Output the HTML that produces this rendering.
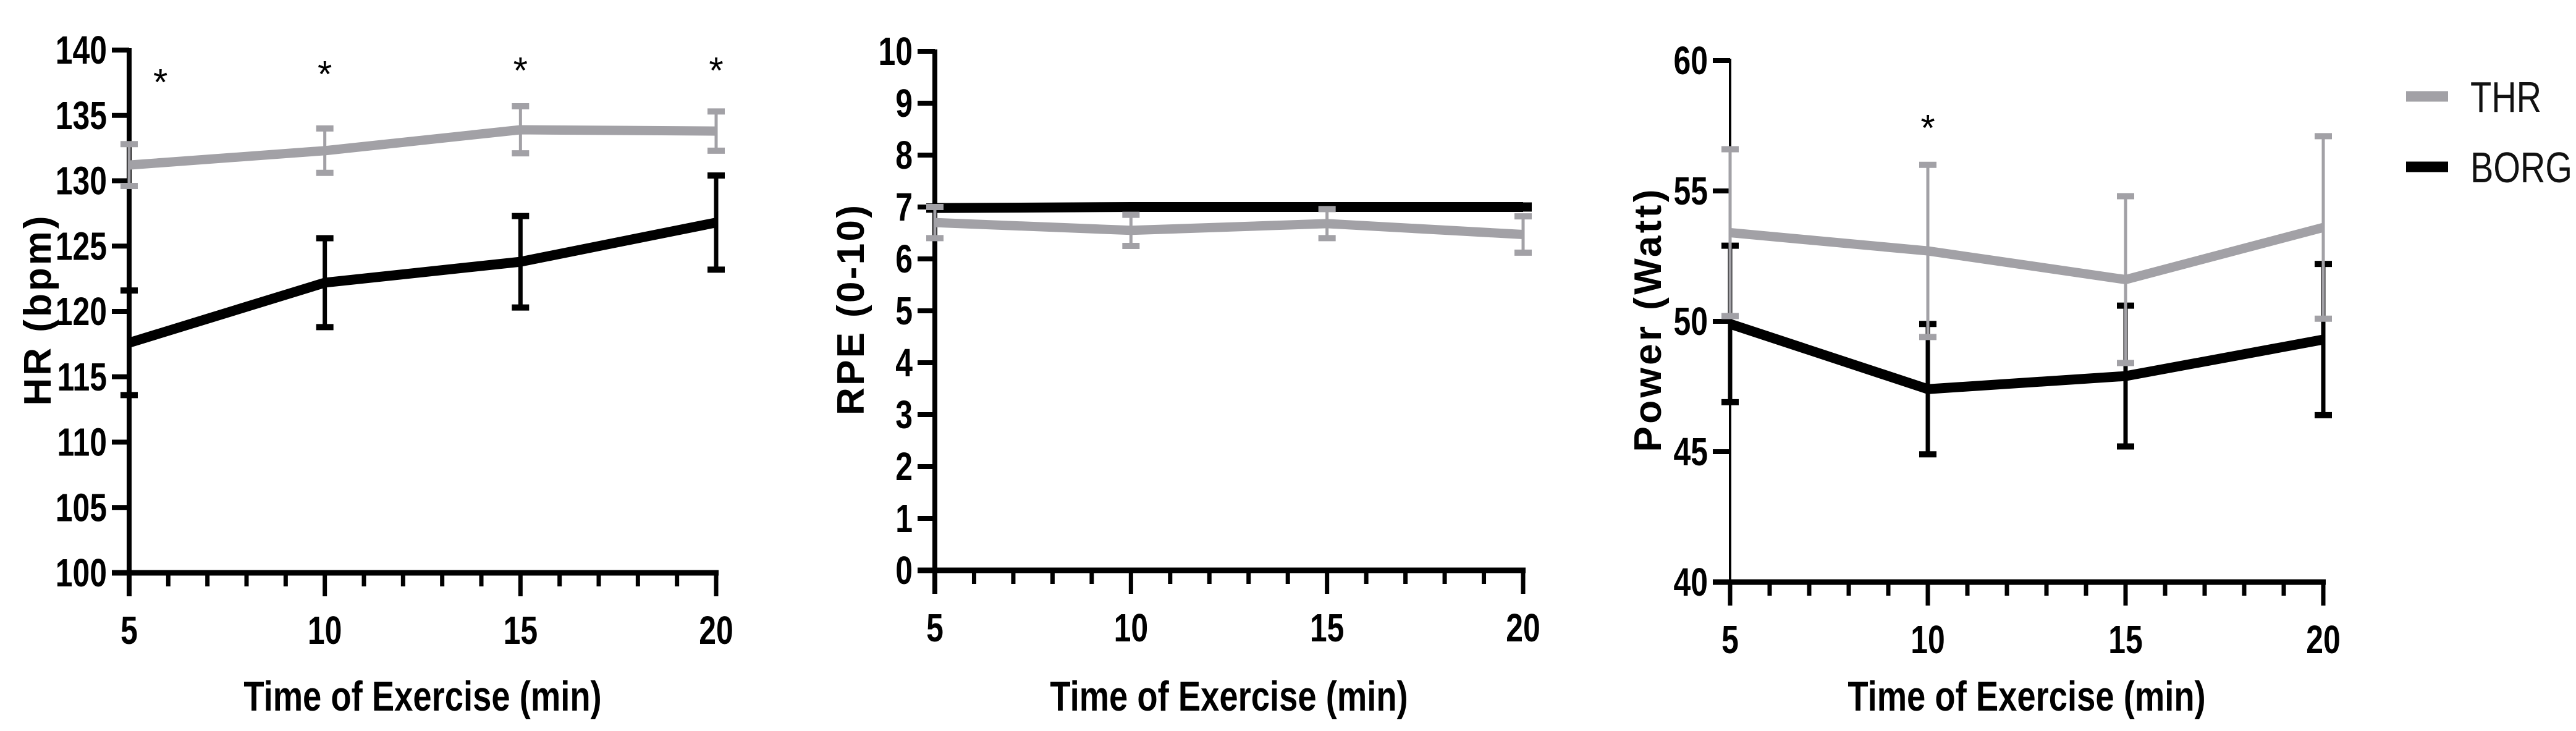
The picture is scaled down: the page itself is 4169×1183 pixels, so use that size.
<!DOCTYPE html>
<html><head><meta charset="utf-8"><style>
html,body{margin:0;padding:0;background:#fff;width:4169px;height:1183px;overflow:hidden}
svg{display:block}
text{font-family:"Liberation Sans",Arial,sans-serif}
</style></head><body>
<svg id="chart" width="4169" height="1183" viewBox="0 0 4169 1183" xmlns="http://www.w3.org/2000/svg"></svg>
<script>
// ---- data ----
const times = [5, 10, 15, 20];
const xTicks = [5, 10, 15, 20];
// Panel 1: HR
const hrThrMean = [131.2, 132.3, 133.9, 133.8];
const hrThrErr  = [1.6, 1.7, 1.8, 1.5];
const hrBorgMean = [117.6, 122.2, 123.8, 126.8];
const hrBorgErr  = [4.0, 3.4, 3.5, 3.6];
const hrTicks = [100, 105, 110, 115, 120, 125, 130, 135, 140];
const hrStarTimes = [5.8, 10, 15, 20];
const hrStarVals = [137.9, 138.5, 138.8, 138.8];
// Panel 2: RPE
const rpeThrMean = [6.7, 6.55, 6.68, 6.47];
const rpeThrErr  = [0.3, 0.3, 0.28, 0.35];
const rpeBorgMean = [6.98, 7.0, 7.0, 7.0];
const rpeBorgErr  = [0.03, 0.03, 0.03, 0.03];
const rpeTicks = [0, 1, 2, 3, 4, 5, 6, 7, 8, 9, 10];
// Panel 3: Power
const pwThrMean = [53.4, 52.7, 51.6, 53.6];
const pwThrErr  = [3.2, 3.3, 3.2, 3.5];
const pwBorgMean = [49.9, 47.4, 47.9, 49.3];
const pwBorgErr  = [3.0, 2.5, 2.7, 2.9];
const pwTicks = [40, 45, 50, 55, 60];
const pwStarTimes = [10];
const pwStarVals = [57.6];

const NS = "http://www.w3.org/2000/svg";
const svg = document.getElementById('chart');
const GREY = '#a2a1a6';
function mk(tag, attrs, parent) {
  const e = document.createElementNS(NS, tag);
  for (const k in attrs) e.setAttribute(k, attrs[k]);
  (parent || svg).appendChild(e);
  return e;
}

function panel(cfg) {
  const g = mk('g', {});
  
  
  const sx = v => cfg.x0 + (v - 5) / 15 * (cfg.x1 - cfg.x0);
  const sy = v => cfg.y0 + (v - cfg.ymin) / (cfg.ymax - cfg.ymin) * (cfg.y1 - cfg.y0);
  const ya = mk('line', {x1: cfg.x0, y1: sy(cfg.ymax) - 3, x2: cfg.x0, y2: cfg.y0 + 38, stroke: '#000', 'stroke-width': cfg.yw}, g);
  
  
  cfg.yticks.forEach(t => {
    const tk = mk('line', {x1: cfg.x0 - 28, y1: sy(t), x2: cfg.x0, y2: sy(t), stroke: '#000', 'stroke-width': 8}, g);
    
    
    const tx = mk('text', {transform: `translate(${cfg.x0 - 36},${sy(t) + 22}) scale(0.78,1)`, 'text-anchor': 'end', 'font-size': 64, 'font-weight': 'bold'}, g);
    tx.textContent = t;
    
    
  });
  const xa = mk('line', {x1: cfg.x0 - 28, y1: cfg.y0, x2: cfg.x1 + 4, y2: cfg.y0, stroke: '#000', 'stroke-width': 9}, g);
  
  
  for (let m = 5; m <= 20; m++) {
    const major = xTicks.includes(m);
    const tk = mk('line', {x1: sx(m), y1: cfg.y0, x2: sx(m), y2: cfg.y0 + (major ? 38 : 22), stroke: '#000', 'stroke-width': 7}, g);
    
    
  }
  xTicks.forEach(t => {
    const tx = mk('text', {transform: `translate(${sx(t)},${cfg.y0 + 115}) scale(0.78,1)`, 'text-anchor': 'middle', 'font-size': 64, 'font-weight': 'bold'}, g);
    tx.textContent = t;
    
    
  });
  const xt = mk('text', {transform: `translate(${(cfg.x0 + cfg.x1) / 2},1150) scale(0.8,1)`, 'text-anchor': 'middle', 'font-size': 68, 'font-weight': 'bold'}, g);
  xt.textContent = 'Time of Exercise (min)';
  
  
  const yt = mk('text', {transform: `translate(${cfg.ytx},${cfg.yty}) rotate(-90)`, 'text-anchor': 'middle', 'font-size': 62, 'font-weight': 'bold', textLength: cfg.ytl, lengthAdjust: 'spacing'}, g);
  yt.textContent = cfg.ytitle;
  
  

  function series(mean, err, color, name, lw, ew) {
    const sg = mk('g', {}, g);
    
    
    times.forEach((t, i) => {
      const x = sx(t), yt = sy(mean[i] + err[i]), yb = sy(mean[i] - err[i]);
      const eb = mk('line', {x1: x, y1: yt, x2: x, y2: yb, stroke: color, 'stroke-width': ew}, sg);
      
      
      [yt, yb].forEach(yy => {
        const c = mk('line', {x1: x - 14, y1: yy, x2: x + 14, y2: yy, stroke: color, 'stroke-width': 10}, sg);
        
        
      });
    });
    const pts = times.map((t, i) => sx(t) + ',' + sy(mean[i])).join(' ');
    const pl = mk('polyline', {points: pts, fill: 'none', stroke: color, 'stroke-width': lw, 'stroke-linejoin': 'round'}, sg);
    
    
  }
  series(cfg.borgMean, cfg.borgErr, '#000', 'borg-series', 16, 7);
  series(cfg.thrMean, cfg.thrErr, GREY, 'thr-series', 15, 5);
  (cfg.starT || []).forEach((t, i) => {
    const s = mk('text', {x: sx(t), y: sy(cfg.starV[i]) + 28, 'text-anchor': 'middle', 'font-size': 60}, g);
    s.textContent = '*';
    
    
  });
}

panel({name: 'hr-panel', x0: 209, x1: 1159, y0: 927, y1: 81, ymin: 100, ymax: 140, yw: 8,
  yticks: hrTicks, ytitle: 'HR (bpm)', ytx: 82, yty: 503, ytl: 307,
  thrMean: hrThrMean, thrErr: hrThrErr, borgMean: hrBorgMean, borgErr: hrBorgErr,
  starT: hrStarTimes, starV: hrStarVals});
panel({name: 'rpe-panel', x0: 1513, x1: 2465, y0: 923, y1: 83, ymin: 0, ymax: 10, yw: 8,
  yticks: rpeTicks, ytitle: 'RPE (0-10)', ytx: 1398, yty: 502, ytl: 340,
  thrMean: rpeThrMean, thrErr: rpeThrErr, borgMean: rpeBorgMean, borgErr: rpeBorgErr});
panel({name: 'power-panel', x0: 2800, x1: 3760, y0: 942, y1: 98, ymin: 40, ymax: 60, yw: 4,
  yticks: pwTicks, ytitle: 'Power (Watt)', ytx: 2688, yty: 519, ytl: 425,
  thrMean: pwThrMean, thrErr: pwThrErr, borgMean: pwBorgMean, borgErr: pwBorgErr,
  starT: pwStarTimes, starV: pwStarVals});

const lg = mk('g', {});


[['THR', GREY, 156], ['BORG', '#000', 270]].forEach(([lab, col, y]) => {
  const eg = mk('g', {}, lg);
  
  
  mk('line', {x1: 3894, y1: y, x2: 3962, y2: y, stroke: col, 'stroke-width': 17}, eg);
  const t = mk('text', {transform: `translate(3998,${y + 25}) scale(0.8,1)`, 'font-size': 70, fill: '#111'}, eg);
  t.textContent = lab;
});
</script>
</body></html>
